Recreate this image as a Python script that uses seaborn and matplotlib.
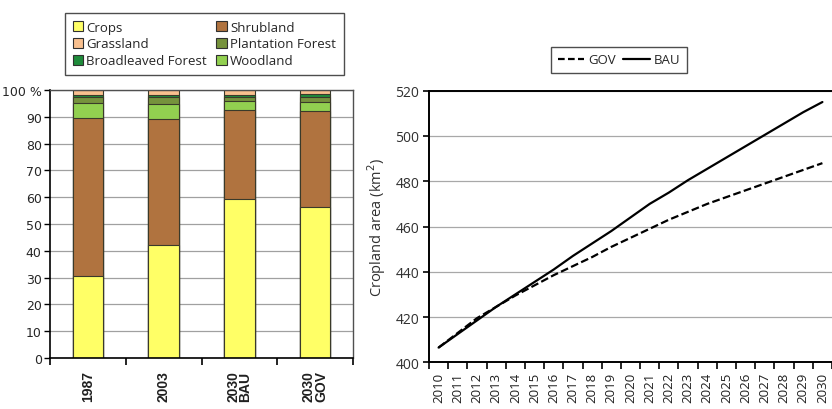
import numpy as np
import pandas as pd
import matplotlib
matplotlib.use("Agg")
import matplotlib.pyplot as plt
import seaborn as sns
from matplotlib.lines import Line2D
from matplotlib.patches import Patch

sns.set_theme(style="white")
plt.rcParams["font.family"] = ["DejaVu Sans"]

# Land-cover shares (%) per period, bottom to top of each stack
periods = ["1987", "2003", "2030\nBAU", "2030\nGOV"]
crops = [30.5, 42.0, 59.3, 56.4]
shrubland = [59.2, 47.0, 33.2, 35.6]
woodland = [5.5, 5.8, 3.3, 3.5]
plantation = [2.2, 2.5, 1.6, 1.7]
broadleaved = [0.8, 0.9, 0.9, 1.4]
grassland = [1.8, 1.8, 1.7, 1.4]

# Projected cropland area (km2)
years = list(range(2010, 2031))
gov = [406.5, 413.0, 419.5, 424.5, 429.5, 434.0, 438.5, 442.5, 446.5, 451.0,
       455.0, 459.0, 463.0, 466.5, 470.0, 473.0, 476.0, 479.0, 482.0, 485.0, 488.0]
bau = [406.5, 412.5, 418.5, 424.5, 430.0, 435.5, 441.0, 447.0, 452.5, 458.0,
       464.0, 470.0, 475.0, 480.5, 485.5, 490.5, 495.5, 500.5, 505.5, 510.5, 515.0]

layers = [
    ("Crops", crops, "#FFFF66"),
    ("Shrubland", shrubland, "#B0733F"),
    ("Woodland", woodland, "#92D050"),
    ("Plantation Forest", plantation, "#76923C"),
    ("Broadleaved Forest", broadleaved, "#1F8B3B"),
    ("Grassland", grassland, "#F9C08F"),
]

fig = plt.figure(figsize=(8.32, 4.10), dpi=100)
ax1 = fig.add_axes([0.0601, 0.1244, 0.3642, 0.6537])
ax2 = fig.add_axes([0.5156, 0.1139, 0.4844, 0.6624])

# ---- stacked land-cover bars ----
cum = np.zeros(len(periods))
tops = []
for name, vals, color in layers:
    cum = cum + np.array(vals)
    tops.append((name, cum.copy(), color))
for name, top, color in reversed(tops):
    df = pd.DataFrame({"period": periods, "share": top})
    sns.barplot(data=df, x="period", y="share", color=color, width=0.4,
                edgecolor="#3a3a2a", linewidth=0.8, saturation=1, ax=ax1)

ax1.set_ylim(0, 100)
ax1.set_xlim(-0.5, 3.5)
ax1.set_yticks(range(0, 101, 10))
ax1.set_yticklabels([str(v) for v in range(0, 100, 10)] + ["100 %"], fontsize=9)
ax1.set_xticks(range(4))
ax1.set_xticklabels(periods, rotation=90, fontsize=10, fontweight="bold",
                    family="Liberation Sans", linespacing=0.85,
                    va="top", ha="center", color="#202020")
ax1.tick_params(axis="x", length=0, pad=9)
ax1.set_xticks(np.arange(-0.5, 4.0, 1.0), minor=True)
ax1.tick_params(axis="x", which="minor", length=5, width=1.2, color="black",
                direction="out", bottom=True)
ax1.tick_params(axis="y", length=4, width=1.0, color="black", direction="out",
                left=True, pad=2)
ax1.set_xlabel("")
ax1.set_ylabel("")
ax1.grid(axis="y", color="#a0a0a0", linewidth=0.9)
ax1.set_axisbelow(True)
for s in ["left", "bottom"]:
    ax1.spines[s].set_color("black")
    ax1.spines[s].set_linewidth(1.2)
for s in ["top", "right"]:
    ax1.spines[s].set_color("#505050")
    ax1.spines[s].set_linewidth(1.0)

legend_order = ["Crops", "Grassland", "Broadleaved Forest",
                "Shrubland", "Plantation Forest", "Woodland"]
colors = {n: c for n, _, c in layers}
handles = [Patch(facecolor=colors[n], edgecolor="#303030", linewidth=0.8, label=n)
           for n in legend_order]
leg1 = fig.legend(handles=handles, ncol=2, loc="upper left",
                  bbox_to_anchor=(58 / 832, 1 - 7 / 410), frameon=True,
                  fancybox=False, edgecolor="#202020", handlelength=0.8,
                  handleheight=0.8, handletextpad=0.25, columnspacing=0.7,
                  labelspacing=0.3, borderpad=0.6,
                  prop={"family": "Open Sans", "size": 9.5})
leg1.get_frame().set_linewidth(1.0)

# ---- cropland projection lines ----
lines = pd.DataFrame({
    "year": years * 2,
    "area": gov + bau,
    "scenario": ["GOV"] * len(years) + ["BAU"] * len(years),
})
sns.lineplot(data=lines, x="year", y="area", hue="scenario", style="scenario",
             palette={"GOV": "black", "BAU": "black"},
             dashes={"GOV": (3.5, 1.5), "BAU": ""}, linewidth=1.6,
             legend=False, ax=ax2)

ax2.set_xlim(2009.5, 2030.5)
ax2.set_ylim(400, 520)
ax2.set_yticks(range(400, 521, 20))
ax2.set_yticklabels([str(v) for v in range(400, 521, 20)],
                    family="Open Sans", fontsize=10, color="#303030")
ax2.set_xticks(years)
ax2.set_xticklabels([str(y) for y in years], rotation=90,
                    family="Open Sans", fontsize=9.5, color="#202020")
ax2.tick_params(axis="x", length=0, pad=7)
ax2.set_xticks(np.arange(2009.5, 2031.0, 1.0), minor=True)
ax2.tick_params(axis="x", which="minor", length=5, width=1.2, color="black",
                direction="out", bottom=True)
ax2.tick_params(axis="y", length=4, width=1.2, color="black", direction="out",
                left=True, pad=3)
ax2.set_xlabel("")
ax2.set_ylabel("Cropland area (km$^2$)", family="Open Sans", fontsize=10.5,
               color="#303030", labelpad=5)
ax2.grid(axis="y", color="#a8a8a8", linewidth=0.9)
ax2.set_axisbelow(True)
for s in ["left", "bottom", "top"]:
    ax2.spines[s].set_color("black")
    ax2.spines[s].set_linewidth(1.4)
ax2.spines["right"].set_visible(False)

line_handles = [Line2D([], [], color="black", linewidth=1.6, linestyle=(0, (3, 1.5)),
                       label="GOV"),
                Line2D([], [], color="black", linewidth=1.6, label="BAU")]
leg2 = fig.legend(handles=line_handles, ncol=2, loc="center",
                  bbox_to_anchor=(619 / 832, 1 - 61 / 410), frameon=True,
                  fancybox=False, edgecolor="#202020", handlelength=2.0,
                  handletextpad=0.3, columnspacing=0.6, borderpad=0.5,
                  prop={"family": "Open Sans", "size": 9.5})
leg2.get_frame().set_linewidth(1.0)

fig.savefig("out.png", dpi=100)
